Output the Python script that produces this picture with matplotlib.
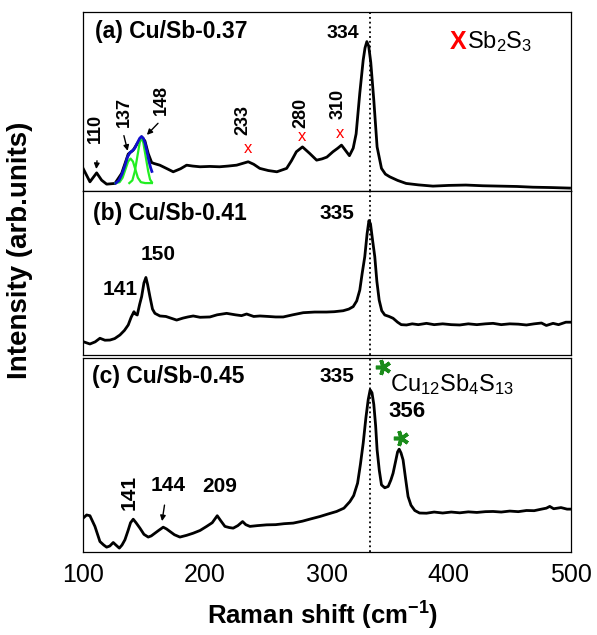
import numpy as np
import matplotlib
matplotlib.use('Agg')
import matplotlib.pyplot as plt

plt.rcParams['font.family'] = ['Liberation Sans', 'DejaVu Sans']
plt.rcParams['mathtext.fontset'] = 'custom'
plt.rcParams['mathtext.rm'] = 'Liberation Sans'
plt.rcParams['mathtext.bf'] = 'Liberation Sans:bold'
plt.rcParams['mathtext.it'] = 'Liberation Sans:italic'

# spectra (intensity in arb. units, 0..1 of each panel)
shift_a = [100, 105.7, 111.2, 115.3, 119.4, 126.2, 131.7, 137.1, 141.2, 144.5, 148.1, 150.8,
           153.5, 156.3, 158, 163, 169, 174, 180, 185, 190, 196, 204, 212, 219, 226, 231,
           235.5, 240, 245, 252, 259, 267, 271, 275, 280, 286, 291.6, 296, 300, 305, 309,
           312, 315, 318.5, 321.6, 324, 327, 329.8, 331.3, 332.8, 334.3, 336, 338.5, 341.2,
           344.8, 348, 351.6, 358, 365, 375, 387, 400, 414, 428, 442, 456, 469, 484, 499]
int_a = [0.128, 0.052, 0.102, 0.061, 0.039, 0.043, 0.099, 0.207, 0.229, 0.266, 0.303, 0.28,
         0.21, 0.16, 0.155, 0.145, 0.125, 0.108, 0.125, 0.145, 0.14, 0.136, 0.138, 0.136, 0.14,
         0.145, 0.155, 0.164, 0.15, 0.127, 0.115, 0.108, 0.127, 0.17, 0.22, 0.247, 0.21, 0.173,
         0.18, 0.19, 0.22, 0.24, 0.257, 0.23, 0.198, 0.24, 0.32, 0.547, 0.732, 0.80, 0.835,
         0.81, 0.72, 0.508, 0.247, 0.127, 0.095, 0.08, 0.06, 0.043, 0.035, 0.028, 0.032, 0.034,
         0.03, 0.028, 0.026, 0.022, 0.02, 0.017]

shift_b = [100.2, 105.7, 110, 113.9, 118, 122.1, 126, 130.3, 134, 137.1, 139.5, 141.8, 143,
           144.5, 146.5, 148.1, 150, 151.6, 153, 154.9, 157, 159, 163.1, 168, 172, 176.8, 182,
           186, 190.4, 196, 204.1, 210, 217.8, 225, 230, 234.2, 240, 245.1, 252, 258, 264.2,
           272, 280.6, 290, 299.7, 306, 313.4, 318, 321.6, 324.5, 327, 329, 331.1, 333, 334.5,
           335.8, 337.5, 339.3, 341, 342.9, 345, 347.5, 351, 354.3, 358, 361, 365.3, 370, 375,
           381.7, 388, 395, 402, 409, 416, 423, 430, 436.3, 443, 450, 457, 463.7, 470, 476, 480,
           485.5, 490, 496, 501.9]
int_b = [0.081, 0.067, 0.08, 0.102, 0.09, 0.091, 0.1, 0.122, 0.15, 0.183, 0.23, 0.264, 0.25,
         0.244, 0.31, 0.356, 0.44, 0.473, 0.43, 0.356, 0.28, 0.254, 0.238, 0.235, 0.225, 0.213,
         0.225, 0.232, 0.238, 0.23, 0.232, 0.245, 0.254, 0.245, 0.24, 0.25, 0.235, 0.238, 0.235,
         0.232, 0.232, 0.245, 0.258, 0.262, 0.262, 0.264, 0.27, 0.28, 0.295, 0.33, 0.396, 0.5,
         0.6, 0.74, 0.82, 0.80, 0.7, 0.6, 0.45, 0.335, 0.27, 0.244, 0.235, 0.224, 0.2, 0.185,
         0.183, 0.19, 0.185, 0.193, 0.185, 0.19, 0.185, 0.183, 0.19, 0.185, 0.19, 0.193, 0.185,
         0.19, 0.188, 0.183, 0.19, 0.195, 0.18, 0.193, 0.185, 0.2, 0.2]

shift_c = [100.2, 103, 105.7, 109.8, 113.9, 117, 119.4, 122, 124.8, 127, 129.8, 132, 134.4, 137,
           139, 141.2, 143.5, 146.7, 150, 153.5, 156, 159, 162, 165.8, 168.5, 171.3, 175, 179.5,
           185, 190.4, 196, 201.4, 206, 210.1, 213, 216.4, 220, 223.2, 227, 230.9, 233.5, 236.9,
           243, 250.6, 258, 265, 272.4, 280, 287, 294.3, 301, 308, 314, 318.9, 322, 325.2, 327.5,
           329.8, 332, 333.9, 335.5, 337, 338.5, 340, 341.2, 343, 344.8, 347.5, 350.3, 352.5,
           354.3, 356.5, 358, 359.3, 360.8, 362.5, 364.5, 366.6, 369, 372.1, 376, 381.7, 388, 395,
           402, 409, 416, 423, 430, 436.3, 443, 450, 457, 463.7, 470, 476, 480, 482.8, 486, 492,
           497, 501.9]
int_c = [0.174, 0.19, 0.186, 0.131, 0.053, 0.035, 0.024, 0.03, 0.048, 0.035, 0.019, 0.035, 0.062,
         0.11, 0.15, 0.168, 0.15, 0.122, 0.09, 0.076, 0.082, 0.096, 0.11, 0.127, 0.118, 0.105,
         0.088, 0.076, 0.085, 0.096, 0.11, 0.131, 0.15, 0.186, 0.16, 0.131, 0.125, 0.122, 0.135,
         0.156, 0.14, 0.131, 0.135, 0.139, 0.14, 0.145, 0.148, 0.158, 0.17, 0.182, 0.195, 0.208,
         0.225, 0.259, 0.29, 0.354, 0.45, 0.56, 0.69, 0.784, 0.835, 0.82, 0.76, 0.65, 0.526, 0.42,
         0.345, 0.33, 0.337, 0.37, 0.405, 0.47, 0.515, 0.529, 0.51, 0.474, 0.38, 0.285, 0.24,
         0.213, 0.2, 0.199, 0.205, 0.2, 0.205, 0.201, 0.206, 0.203, 0.207, 0.208, 0.205, 0.21,
         0.207, 0.213, 0.212, 0.22, 0.225, 0.234, 0.222, 0.228, 0.22, 0.22]

# peak fit of panel (a)
fit_x = [127, 129.5, 132, 134.5, 136.5, 138.5, 140.5, 142.5, 144.5, 146.5, 148, 149.5, 151,
         152.5, 154, 155.5, 156.5]
fit_sum = [0.045, 0.06, 0.095, 0.145, 0.19, 0.215, 0.225, 0.24, 0.268, 0.295, 0.305, 0.295,
           0.265, 0.22, 0.17, 0.13, 0.11]
g1_x = [126.5, 130, 132.5, 135, 137, 139, 141, 143, 145, 147.5, 151, 156.5]
g1_y = [0.045, 0.05, 0.075, 0.125, 0.165, 0.182, 0.165, 0.12, 0.075, 0.05, 0.045, 0.045]
g2_x = [138, 140.5, 142.5, 144.5, 146.5, 148, 149.5, 151.5, 153.5, 155, 156.5]
g2_y = [0.045, 0.06, 0.11, 0.19, 0.27, 0.3, 0.27, 0.19, 0.11, 0.065, 0.05]

x_ticks = [100, 200, 300, 400, 500]
ref_line = 335

fig = plt.figure(figsize=(5.97, 6.35), dpi=100)
ax_a = fig.add_axes([0.139, 0.699, 0.817, 0.282])
ax_b = fig.add_axes([0.139, 0.441, 0.817, 0.258])
ax_c = fig.add_axes([0.139, 0.131, 0.817, 0.3055])

for ax, xs, ys in [(ax_a, shift_a, int_a), (ax_b, shift_b, int_b), (ax_c, shift_c, int_c)]:
    ax.plot(xs, ys, color='k', lw=2.0, zorder=3)
    ax.axvline(ref_line, color='k', ls=':', lw=1.3, zorder=2)
    ax.set_xlim(100, 500)
    ax.set_ylim(0, 1)
    ax.set_yticks([])
    ax.set_xticks(x_ticks)
    ax.tick_params(axis='x', length=0, labelsize=18, pad=8)
    for sp in ax.spines.values():
        sp.set_linewidth(0.9)
ax_a.set_xticklabels([])
ax_b.set_xticklabels([])

# panel (a)
ax_a.plot(g1_x, g1_y, color='#22ee22', lw=1.6, zorder=4)
ax_a.plot(g2_x, g2_y, color='#22ee22', lw=1.6, zorder=4)
ax_a.plot(fit_x, fit_sum, color='#1010cc', lw=2.0, zorder=5)
ax_a.text(109.5, 0.89, '(a) Cu/Sb-0.37', fontsize=16.5, fontweight='bold', va='center')
ax_a.text(312.7, 0.88, '334', fontsize=14, fontweight='bold', ha='center', va='center')
rot_labels = [('110', 109.8, 0.352), ('137', 133.6, 0.44), ('148', 164.5, 0.508),
              ('233', 231.4, 0.40), ('280', 278.5, 0.436), ('310', 309.3, 0.486)]
for s, x, y in rot_labels:
    ax_a.text(x, y, s, fontsize=13, fontweight='bold', rotation=90, ha='center', va='center')
arrows_a = [((110.7, 0.108), (111.7, 0.185)), ((137.2, 0.21), (133.0, 0.325)),
            ((150.8, 0.303), (163.1, 0.39))]
for tip, tail in arrows_a:
    ax_a.annotate('', xy=tip, xytext=tail,
                  arrowprops=dict(arrowstyle='-|>', color='k', lw=1, mutation_scale=8))
for x, y in [(235.5, 0.238), (279.3, 0.303), (310.7, 0.322)]:
    ax_a.text(x, y, 'x', color='red', fontsize=12, ha='center', va='center')
ax_a.text(401, 0.835, 'X', color='red', fontsize=18, fontweight='bold', va='center')
ax_a.text(415, 0.835, 'Sb$_2$S$_3$', fontsize=17, va='center')

# panel (b)
ax_b.text(108.4, 0.864, '(b) Cu/Sb-0.41', fontsize=16.5, fontweight='bold', va='center')
ax_b.text(308.6, 0.864, '335', fontsize=15, fontweight='bold', ha='center', va='center')
ax_b.text(161.7, 0.616, '150', fontsize=15, fontweight='bold', ha='center', va='center')
ax_b.text(130.3, 0.40, '141', fontsize=15, fontweight='bold', ha='center', va='center')

# panel (c)
ax_c.text(107.1, 0.904, '(c) Cu/Sb-0.45', fontsize=16.5, fontweight='bold', va='center')
ax_c.text(308.5, 0.904, '335', fontsize=15, fontweight='bold', ha='center', va='center')
ax_c.text(366, 0.723, '356', fontsize=16, fontweight='bold', ha='center', va='center')
ax_c.text(137.7, 0.307, '141', fontsize=15, fontweight='bold', rotation=90, ha='center', va='center')
ax_c.text(169.9, 0.342, '144', fontsize=15, fontweight='bold', ha='center', va='center')
ax_c.text(212.3, 0.335, '209', fontsize=15, fontweight='bold', ha='center', va='center')
ax_c.annotate('', xy=(164.5, 0.144), xytext=(167.2, 0.255),
              arrowprops=dict(arrowstyle='-|>', color='k', lw=1, mutation_scale=8))
ax_c.plot([346.2, 361.2], [0.955, 0.586], ls='none', marker=(5, 2, 90), ms=11,
          mew=2.6, color='#1a8c1a', zorder=6)
ax_c.text(352, 0.86, 'Cu$_{12}$Sb$_4$S$_{13}$', fontsize=17, va='center')

fig.text(0.034, 0.606, 'Intensity (arb.units)', rotation=90, fontsize=20,
         fontweight='bold', ha='center', va='center')
fig.text(0.541, 0.03, r'Raman shift (cm$^{\mathbf{-1}}$)', fontsize=18.5,
         fontweight='bold', ha='center', va='center')

fig.savefig('out.png', dpi=100)
